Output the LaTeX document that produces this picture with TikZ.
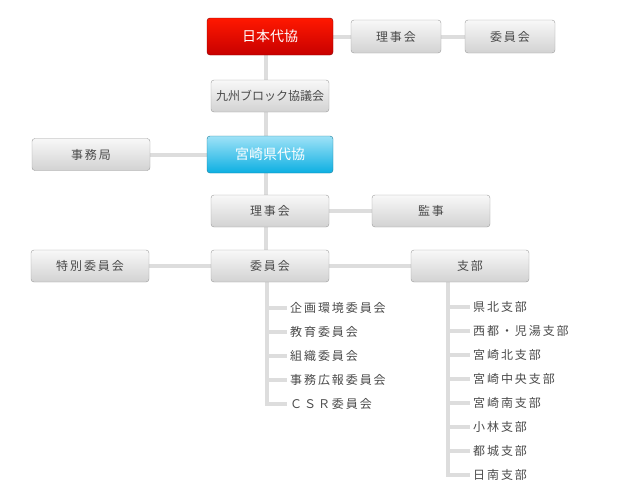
\documentclass[tikz,border=0pt]{standalone}
\usepackage{fontspec}
\newfontfamily\jpfont{Noto Sans CJK JP}
\newfontfamily\jpwide{Noto Sans CJK JP}[LetterSpace=16]
\usetikzlibrary{backgrounds}
\definecolor{linegray}{HTML}{DDDDDD}
\definecolor{textgray}{HTML}{4A4A4A}
\definecolor{boxtop}{HTML}{F8F8F8}
\definecolor{boxbot}{HTML}{D2D2D2}
\definecolor{boxline}{HTML}{9C9C9C}
\definecolor{redtop}{HTML}{FF1800}
\definecolor{redbot}{HTML}{C80000}
\definecolor{redline}{HTML}{8A0000}
\definecolor{bluetop}{HTML}{9FE2F7}
\definecolor{bluebot}{HTML}{0CAFE2}
\definecolor{blueline}{HTML}{1A7E9A}
\tikzset{
  orgbox/.style={draw=boxline, rounded corners=3pt, top color=boxtop, bottom color=boxbot,
    minimum width=118pt, minimum height=32pt, inner sep=0pt, text=textgray,
    font=\jpwide\fontsize{12}{14}\selectfont},
  smallbox/.style={orgbox, minimum width=90pt, minimum height=33pt},
  redbox/.style={orgbox, draw=redline, top color=redtop, bottom color=redbot, text=white,
    minimum width=126pt, minimum height=37pt, font=\jpfont\fontsize{14}{16}\selectfont},
  bluebox/.style={redbox, draw=blueline, top color=bluetop, bottom color=bluebot},
  conn/.style={draw=linegray, line width=4pt},
  listitem/.style={anchor=west, inner xsep=3pt, inner ysep=0pt, text=textgray,
    font=\jpwide\fontsize{12}{14}\selectfont}
}
\begin{document}
\begin{tikzpicture}[x=1pt,y=-1pt]
  \useasboundingbox (0,0) rectangle (632,496);
  % top level
  \node[redbox] (jp) at (270,36.5) {日本代協};
  \node[smallbox] (rjtop) at (396,36.5) {理事会};
  \node[smallbox] (iintop) at (510,36.5) {委員会};
  \node[orgbox, font=\jpfont\fontsize{12}{14}\selectfont] (kyu) at (270,96) {九州ブロック協議会};
  \node[bluebox] (miya) at (270,154.5) {宮崎県代協};
  \node[orgbox] (jim) at (91,154.5) {事務局};
  % prefecture level
  \node[orgbox] (rj) at (270,211) {理事会};
  \node[orgbox] (kanji) at (431,211) {監事};
  \node[orgbox] (iin) at (270,266) {委員会};
  \node[orgbox] (toku) at (90,266) {特別委員会};
  \node[orgbox] (shibu) at (470,266) {支部};
  \coordinate (trunk) at (266,0);
  \coordinate (cx) at (267,0);
  \coordinate (bx) at (448,0);
  % committees and branches
  \foreach \name [count=\i] in {企画環境委員会,教育委員会,組織委員会,事務広報委員会,ＣＳＲ委員会}
    \node[listitem] (c\i) at (287,284+24*\i) {\name};
  \foreach \name [count=\i] in {県北支部,西都・児湯支部,宮崎北支部,宮崎中央支部,宮崎南支部,小林支部,都城支部,日南支部}
    \node[listitem] (b\i) at (470,283+24*\i) {\name};
  \begin{scope}[on background layer]
    \draw[conn] (jp) -- (rjtop);
    \draw[conn] (rjtop) -- (iintop);
    \draw[conn] (jp.south -| trunk) -- (kyu.north -| trunk);
    \draw[conn] (kyu.south -| trunk) -- (miya.north -| trunk);
    \draw[conn] (jim) -- (miya);
    \draw[conn] (miya.south -| trunk) -- (rj.north -| trunk);
    \draw[conn] (rj) -- (kanji);
    \draw[conn] (rj.south -| trunk) -- (iin.north -| trunk);
    \draw[conn] (toku) -- (iin);
    \draw[conn] (iin) -- (shibu);
    \draw[conn] (iin.south -| cx) |- (c5.west);
    \foreach \i in {1,...,4}
      \draw[conn] (c\i.west -| cx) -- (c\i.west);
    \draw[conn] (shibu.south -| bx) |- (b8.west);
    \foreach \i in {1,...,7}
      \draw[conn] (b\i.west -| bx) -- (b\i.west);
  \end{scope}
\end{tikzpicture}
\end{document}
